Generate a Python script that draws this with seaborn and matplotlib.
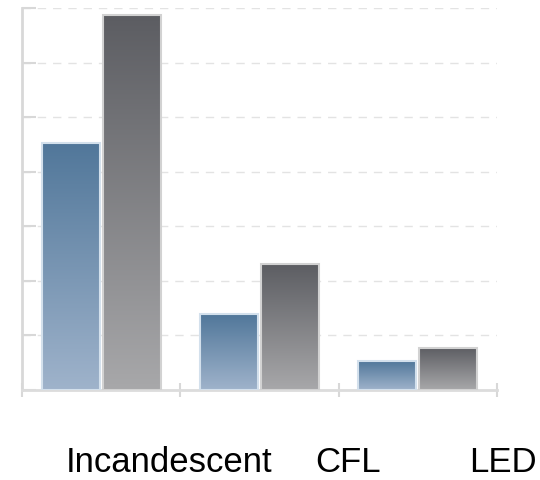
import numpy as np
import pandas as pd
import matplotlib
matplotlib.use("Agg")
import matplotlib.pyplot as plt
import matplotlib.transforms as mtransforms
import seaborn as sns
from matplotlib.colors import LinearSegmentedColormap

categories = ["Incandescent", "CFL", "LED"]
series_names = ["Series 1", "Series 2"]
series1 = [4.52, 1.39, 0.53]
series2 = [6.87, 2.31, 0.77]
label_pos = [0.43, 1.56, 2.54]

df = pd.DataFrame({
    "category": categories * 2,
    "series": [series_names[0]] * 3 + [series_names[1]] * 3,
    "value": series1 + series2,
})

sns.set_style("white")
plt.rcParams["font.family"] = ["Liberation Sans", "DejaVu Sans"]

fig = plt.figure(figsize=(5.4, 4.8), dpi=100)
ax = fig.add_axes([22 / 540, 1 - 390 / 480, 475 / 540, 382 / 480])

sns.barplot(data=df, x="category", y="value", hue="series", order=categories,
            hue_order=series_names, palette=["#6a8aab", "#7a7a7e"],
            width=0.77, gap=0.05, ax=ax, legend=False, saturation=1)

ax.set_xlim(-0.5, 2.5)
ax.set_ylim(0, 7)
ax.set_autoscale_on(False)

cmaps = {
    series_names[0]: LinearSegmentedColormap.from_list("b", ["#9fb3cb", "#51779a"]),
    series_names[1]: LinearSegmentedColormap.from_list("g", ["#a8a8aa", "#5c5d62"]),
}
edges = {series_names[0]: "#d3e0ec", series_names[1]: "#d2d2d2"}
grad = np.linspace(0, 1, 256).reshape(-1, 1)
for container, name in zip(ax.containers, series_names):
    for patch in container.patches:
        x0, y0 = patch.get_x(), patch.get_y()
        w, h = patch.get_width(), patch.get_height()
        patch.set_facecolor("none")
        patch.set_edgecolor(edges[name])
        patch.set_linewidth(1.5)
        im = ax.imshow(grad, cmap=cmaps[name], origin="lower", aspect="auto",
                       extent=[x0, x0 + w, y0, y0 + h], zorder=2)
        im.set_clip_path(patch)
        patch.set_zorder(3)

for v in range(1, 8):
    ax.axhline(v, color="#e3e3e3", lw=1.0, ls=(0, (6, 5)), zorder=0)

for s in ["top", "right"]:
    ax.spines[s].set_visible(False)
ax.spines["left"].set_color("#d8d8d8")
ax.spines["left"].set_linewidth(2)
ax.spines["bottom"].set_color("#dcdcdc")
ax.spines["bottom"].set_linewidth(2)

ax.set_yticks(range(0, 8))
ax.set_yticklabels([])
ax.tick_params(axis="y", direction="in", length=10, color="#d8d8d8", width=1.5, left=True)

ax.set_xticks([-0.5, 0.5, 1.5, 2.5])
ax.set_xticklabels([])
ax.tick_params(axis="x", direction="inout", length=10, color="#d8d8d8", width=1.5, bottom=True)
ax.set_xlabel("")
ax.set_ylabel("")
ax.set_xlim(-0.5, 2.5)
ax.set_ylim(0, 7)

trans = mtransforms.blended_transform_factory(ax.transData, ax.transAxes)
for xp, lab in zip(label_pos, categories):
    ax.text(xp, -0.147, lab, transform=trans, ha="center", va="top",
            fontsize=25, color="black", clip_on=False)

fig.savefig("out.png", dpi=100)
